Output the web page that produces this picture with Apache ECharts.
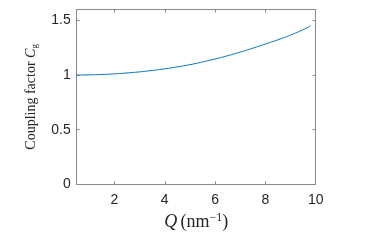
<!DOCTYPE html>
<html>
<head>
<meta charset="utf-8">
<script src="https://cdn.jsdelivr.net/npm/echarts@6/dist/echarts.min.js"></script>
<style>html,body{margin:0;padding:0;background:#fff}#c{width:374px;height:244px}</style>
</head>
<body>
<div id="c"></div>
<script>
const qValues = [0.5, 1, 1.5, 2, 2.5, 3, 3.5, 4, 4.5, 5, 5.5, 6, 6.5, 7, 7.5, 8, 8.5, 9, 9.5, 9.8];
const cgValues = [1.000, 1.002, 1.005, 1.011, 1.019, 1.029, 1.042, 1.057, 1.075, 1.095, 1.120, 1.147, 1.177, 1.210, 1.246, 1.284, 1.323, 1.366, 1.415, 1.450];
const xTicks = [2, 4, 6, 8, 10];
const yTicks = [0, 0.5, 1, 1.5];

const axisColor = '#8a8a8a';
const textColor = '#262626';
const chart = echarts.init(document.getElementById('c'), null, {renderer: 'canvas'});
const tickStyle = {show: true, inside: true, length: 3, lineStyle: {color: axisColor, width: 1}};
chart.setOption({
  animation: false,
  grid: {left: 76.7, right: 58.3, top: 9.5, bottom: 59.7, show: false},
  xAxis: [{
    type: 'value', min: 0.5, max: 10, position: 'bottom',
    axisLine: {show: true, onZero: false, lineStyle: {color: axisColor, width: 1}},
    axisTick: Object.assign({}, tickStyle, {customValues: xTicks}),
    axisLabel: {customValues: xTicks, color: textColor, fontSize: 14, fontFamily: 'Liberation Sans, Arial', margin: 9},
    splitLine: {show: false},
    name: '{i|Q} {n|(nm}{s|−1}{n|)}', nameLocation: 'middle', nameGap: 26,
    nameTextStyle: {rich: {
      i: {fontFamily: 'Liberation Serif', fontStyle: 'italic', fontSize: 18, color: textColor},
      n: {fontFamily: 'Liberation Serif', fontSize: 18, color: textColor},
      s: {fontFamily: 'Liberation Serif', fontSize: 12, color: textColor, verticalAlign: 'top', padding: [0,0,9,0]}
    }}
  }, {
    type: 'value', min: 0.5, max: 10, position: 'top',
    axisLine: {show: true, onZero: false, lineStyle: {color: axisColor, width: 1}},
    axisTick: Object.assign({}, tickStyle, {customValues: xTicks}),
    axisLabel: {show: false}, splitLine: {show: false}
  }],
  yAxis: [{
    type: 'value', min: 0, max: 1.6, position: 'left',
    axisLine: {show: true, onZero: false, lineStyle: {color: axisColor, width: 1}},
    axisTick: Object.assign({}, tickStyle, {customValues: yTicks}),
    axisLabel: {customValues: yTicks, color: textColor, fontSize: 14, fontFamily: 'Liberation Sans, Arial', margin: 6},
    splitLine: {show: false},
    name: '{n|Coupling factor }{i|C}{s|g}', nameLocation: 'middle', nameGap: 38, nameRotate: 90,
    nameTextStyle: {rich: {
      i: {fontFamily: 'Liberation Serif', fontStyle: 'italic', fontSize: 14, color: textColor},
      n: {fontFamily: 'Liberation Serif', fontSize: 14, color: textColor},
      s: {fontFamily: 'Liberation Serif', fontSize: 9, color: textColor, verticalAlign: 'bottom', padding: [6,0,0,0]}
    }}
  }, {
    type: 'value', min: 0, max: 1.6, position: 'right',
    axisLine: {show: true, onZero: false, lineStyle: {color: axisColor, width: 1}},
    axisTick: Object.assign({}, tickStyle, {customValues: yTicks}),
    axisLabel: {show: false}, splitLine: {show: false}
  }],
  series: [{
    type: 'line', xAxisIndex: 0, yAxisIndex: 0,
    data: qValues.map((q, i) => [q, cgValues[i]]),
    showSymbol: false, smooth: true,
    lineStyle: {color: '#0072BD', width: 1}
  }]
});
</script>
</body>
</html>
